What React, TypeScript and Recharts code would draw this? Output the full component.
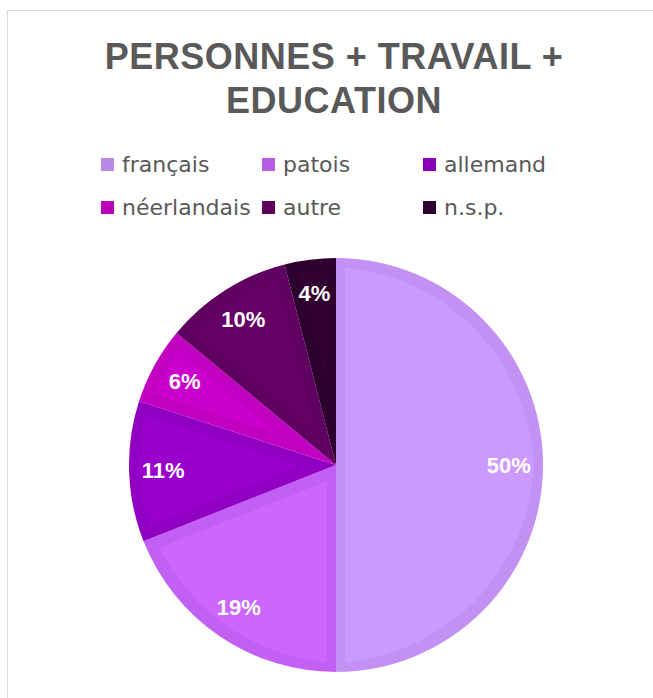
import { Cell, Pie, PieChart } from "recharts";

const categories = ["français", "patois", "allemand", "néerlandais", "autre", "n.s.p."];
const shares = [50, 19, 11, 6, 10, 4];
const fills = ["#cc99ff", "#cc66ff", "#9900cc", "#cc00cc", "#660066", "#330033"];
const borders = ["#b88ae6", "#b85ce6", "#8a00b8", "#b800b8", "#5c005c", "#2e002e"];

const data = categories.map((name, i) => ({ name, value: shares[i] }));

const TEXT = "#595959";
const RADIAN = Math.PI / 180;

function renderLabel(props: any) {
  const { cx, cy, midAngle, outerRadius, value } = props;
  const r = outerRadius * 0.835;
  const x = cx + r * Math.cos(-midAngle * RADIAN);
  const y = cy + r * Math.sin(-midAngle * RADIAN);
  return (
    <text
      x={x}
      y={y}
      fill="#ffffff"
      textAnchor="middle"
      dominantBaseline="central"
      style={{ fontFamily: "'Liberation Sans', Arial, sans-serif", fontWeight: 700, fontSize: 22 }}
    >
      {value}%
    </text>
  );
}

function ChartLegend() {
  return (
    <div
      style={{
        position: "absolute",
        left: 101,
        top: 143,
        display: "grid",
        gridTemplateColumns: "161px 161px 161px",
        gridAutoRows: "43px",
        fontFamily: "'DejaVu Sans', sans-serif",
        fontSize: 22,
        color: TEXT,
      }}
    >
      {categories.map((name, i) => (
        <div key={name} style={{ display: "flex", alignItems: "center", whiteSpace: "nowrap" }}>
          <span
            style={{
              width: 13,
              height: 13,
              marginRight: 8,
              background: borders[i],
              display: "inline-block",
              flex: "none",
            }}
          />
          <span>{name}</span>
        </div>
      ))}
    </div>
  );
}

export default function App() {
  return (
    <div
      style={{
        position: "absolute",
        left: 0,
        top: 0,
        width: 653,
        height: 698,
        overflow: "hidden",
        background: "#ffffff",
      }}
    >
      <svg width={0} height={0} style={{ position: "absolute" }}>
        <defs>
          <filter id="insetBorder" x="-5%" y="-5%" width="110%" height="110%">
            <feComponentTransfer in="SourceGraphic" result="dark">
              <feFuncR type="linear" slope="0.9" />
              <feFuncG type="linear" slope="0.9" />
              <feFuncB type="linear" slope="0.9" />
            </feComponentTransfer>
            <feMorphology in="SourceGraphic" operator="erode" radius="9" result="inner" />
            <feMerge>
              <feMergeNode in="dark" />
              <feMergeNode in="inner" />
            </feMerge>
          </filter>
        </defs>
      </svg>
      <div
        style={{
          position: "absolute",
          left: 7,
          top: 10,
          width: 700,
          height: 720,
          border: "1px solid #d9d9d9",
        }}
      />
      <div
        style={{
          position: "absolute",
          left: 0,
          top: 35,
          width: 668,
          textAlign: "center",
          fontFamily: "'Liberation Sans', Arial, sans-serif",
          fontWeight: 700,
          fontSize: 36,
          lineHeight: "44px",
          letterSpacing: 0.5,
          color: TEXT,
        }}
      >
        PERSONNES + TRAVAIL +
        <br />
        EDUCATION
      </div>
      <ChartLegend />
      <div style={{ position: "absolute", left: 0, top: 0 }}>
        <PieChart width={653} height={698} margin={{ top: 0, right: 0, bottom: 0, left: 0 }}>
          <Pie
            data={data}
            dataKey="value"
            nameKey="name"
            cx={336}
            cy={465}
            outerRadius={207}
            startAngle={90}
            endAngle={-270}
            stroke="none"
            label={renderLabel}
            labelLine={false}
            isAnimationActive={false}
          >
            {data.map((d, i) => (
              <Cell key={d.name} fill={fills[i]} filter="url(#insetBorder)" />
            ))}
          </Pie>
        </PieChart>
      </div>
    </div>
  );
}
